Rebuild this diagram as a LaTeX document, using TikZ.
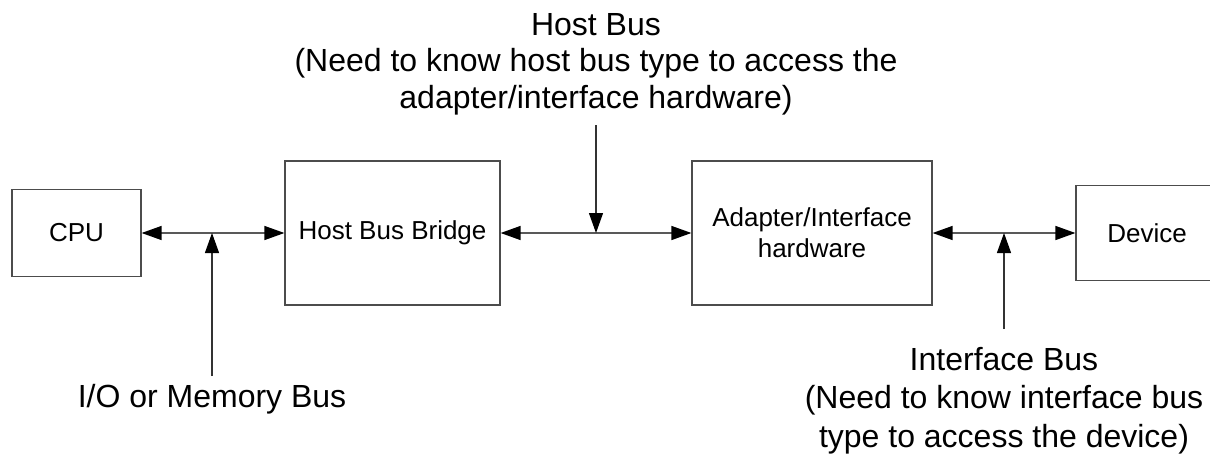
\documentclass[tikz,border=0pt]{standalone}
\usepackage{fontspec}
\setmainfont{Liberation Sans}
\usetikzlibrary{arrows.meta}
\tikzset{
  blk/.style={draw=black!70, line width=1.2pt, inner sep=0pt, align=center,
    font=\fontsize{26}{31}\selectfont},
  lbl/.style={inner sep=0pt, align=center, font=\fontsize{32}{36.5}\selectfont},
  lblb/.style={inner sep=0pt, align=center, font=\fontsize{32}{38.5}\selectfont},
  bus/.style={draw=black!65, line width=1.3pt,
    {Triangle[length=20pt,width=14pt,color=black]}-{Triangle[length=20pt,width=14pt,color=black]}},
  tap/.style={draw=black!80, line width=1.2pt,
    -{Triangle[length=20pt,width=14pt,color=black]}}
}
\begin{document}
\begin{tikzpicture}[x=1pt,y=-1pt]
\useasboundingbox (0,0) rectangle (1210,453);
\begin{scope}
\clip (0,0) rectangle (1210,453);
\node[blk, minimum width=129pt, minimum height=87pt] (cpu) at (76.5,233) {CPU};
\node[blk, minimum width=215pt, minimum height=144pt] (hbb) at (392.5,233) {Host Bus Bridge};
\node[blk, minimum width=240pt, minimum height=144pt] (ada) at (812,233) {Adapter/Interface\\hardware};
\node[blk, minimum width=142pt, minimum height=95pt] (dev) at (1147,233) {Device};
\end{scope}

\draw[bus] (cpu.east) -- (hbb.west);
\draw[bus] (hbb.east) -- (ada.west);
\draw[bus] (ada.east) -- (dev.west);

\coordinate (j1) at (212,233);
\coordinate (j2) at (596,233);
\coordinate (j3) at (1004,233);
\coordinate (s1) at (212,376);
\coordinate (s2) at (596,125);
\coordinate (s3) at (1004,329);

\draw[tap] (s1) -- (j1);
\draw[tap] (s2) -- (j2);
\draw[tap] (s3) -- (j3);

\node[lbl, anchor=base] (l1) at (212,407) {I/O or Memory Bus};
\node[lbl, anchor=base] (l2) at (596,108) {Host Bus\\(Need to know host bus type to access the\\adapter/interface hardware)};
\node[lblb, anchor=base] (l3) at (1004,447) {Interface Bus\\(Need to know interface bus\\type to access the device)};
\end{tikzpicture}
\end{document}
